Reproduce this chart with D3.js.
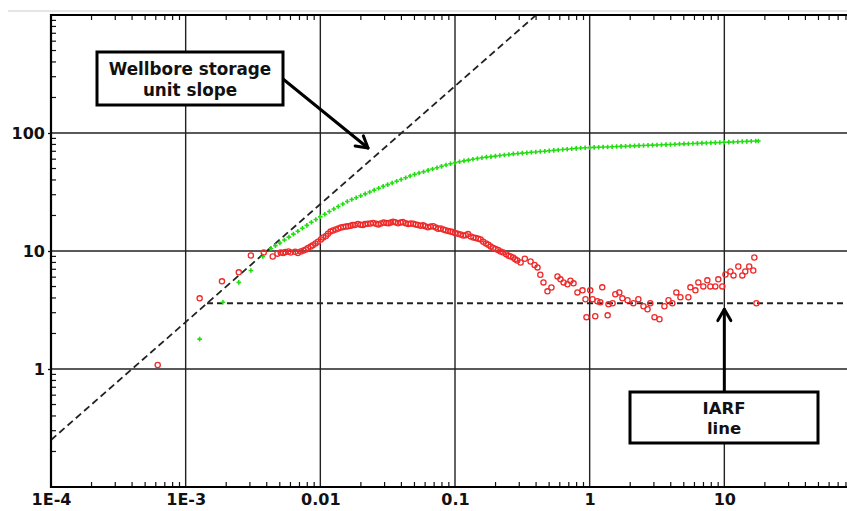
<!DOCTYPE html>
<html><head><meta charset="utf-8">
<script src="https://cdn.jsdelivr.net/npm/d3@7"></script>
<style>body{margin:0;background:#fff}svg{display:block}</style>
</head><body><svg id="c" width="847" height="511"></svg>
<script>
// ---------- data ----------
const xTickValues = [1e-4, 1e-3, 1e-2, 1e-1, 1, 10];
const xTickLabels = ["1E-4", "1E-3", "0.01", "0.1", "1", "10"];
const yTickValues = [1, 10, 100];
const yTickLabels = ["1", "10", "100"];
const xDomain = [1e-4, 100];
const yDomain = [0.1, 1000];
const unitSlopeCoef = 2500;   // wellbore storage line: p = C * t
const iarfLevel = 3.6;        // IARF derivative level
const wellboreArrowTip = [0.0226, 74.6];

// pressure change (green)
const pressureData = [
[1.27e-3,1.79],[1.89e-3,3.68],[2.48e-3,5.42],[3.05e-3,6.84],[3.74e-3,8.99],
[0.0043,10.5],[0.00464,11.1],[0.00501,11.7],[0.00541,12.4],[0.00584,13.1],[0.00631,13.9],[0.00681,14.7],[0.00736,15.6],[0.00794,16.5],[0.00858,17.5],[0.00926,18.5],
[0.01,19.5],[0.0108,20.5],[0.01166,21.6],[0.01259,22.7],[0.01359,23.8],[0.01468,25.0],[0.01585,26.3],[0.01711,27.3],[0.01848,28.3],[0.01995,29.4],[0.02154,30.5],[0.02326,31.6],[0.02512,32.8],[0.02712,34.0],[0.02929,35.3],[0.03162,36.5],[0.03415,37.7],[0.03687,39.0],[0.03981,40.4],[0.04299,41.8],[0.04642,43.2],[0.05012,44.6],[0.05412,45.8],[0.05843,47.0],[0.0631,48.2],[0.06813,49.5],[0.07356,50.8],[0.07943,52.1],[0.08577,53.5],[0.09261,54.9],
[0.1,56.1],[0.108,57.0],[0.1166,58.0],[0.1259,58.9],[0.1359,59.9],[0.1468,60.8],[0.1585,61.7],[0.1711,62.4],[0.1848,63.1],[0.1995,63.7],[0.2154,64.4],[0.2326,65.1],[0.2512,65.8],[0.2712,66.5],[0.2929,67.0],[0.3162,67.5],[0.3415,68.0],[0.3687,68.6],[0.3981,69.1],[0.4299,69.6],[0.4642,70.1],[0.5012,70.7],[0.5412,71.2],[0.5843,71.8],[0.631,72.4],[0.6813,72.9],[0.7356,73.5],[0.7943,74.1],[0.8577,74.7],[0.9261,74.9],
[1,75.2],[1.08,75.5],[1.166,75.7],[1.259,76.0],[1.359,76.2],[1.468,76.5],[1.585,76.8],[1.711,77.0],[1.848,77.3],[1.995,77.6],[2.154,77.8],[2.326,78.1],[2.512,78.4],[2.712,78.7],[2.929,78.9],[3.162,79.2],[3.415,79.5],[3.687,79.7],[3.981,80.0],[4.299,80.3],[4.642,80.6],[5.012,80.9],[5.412,81.1],[5.843,81.4],[6.31,81.7],[6.813,82.0],[7.356,82.3],[7.943,82.6],[8.577,82.8],[9.261,83.1],
[10,83.4],[10.8,83.7],[11.66,84.0],[12.59,84.3],[13.59,84.6],[14.68,84.9],[15.85,85.2],[17.11,85.5],[17.9,85.6]
];

// pressure derivative (red)
const derivativeData = [
[6.2e-4,1.08],[1.27e-3,3.97],[1.86e-3,5.53],[2.48e-3,6.59],[3.05e-3,9.16],[3.8e-3,9.71],[4.43e-3,8.99],[4.8e-3,9.5],[5.08e-3,9.71],[5.3e-3,9.6],[5.5e-3,9.8],[5.8e-3,9.9],[6.03e-3,9.71],[6.5e-3,9.85],[6.8e-3,9.6],[7.16e-3,9.9],[7.5e-3,10.1],[7.8e-3,10.3],[8.1e-3,10.6],[8.49e-3,10.9],[8.8e-3,11.2],[9.2e-3,11.6],[9.6e-3,12.0],
[0.0101,12.5],[0.0105,13.0],[0.011,13.4],[0.0114,14.0],[0.0119,14.6],[0.0124,14.9],[0.013,15.2],[0.0136,15.5],[0.0142,15.8],[0.0148,16.0],[0.0155,16.1],[0.0161,16.2],[0.0168,16.4],[0.0174,16.6],[0.018,16.6],[0.019,16.9],[0.0199,16.7],[0.0207,16.6],[0.0215,16.9],[0.0225,17.0],[0.0236,17.1],[0.0247,17.3],[0.026,17.0],[0.027,16.8],[0.0281,17.1],[0.0295,17.4],[0.031,17.3],[0.0322,17.2],[0.0333,17.4],[0.0347,17.7],[0.036,17.5],[0.0377,17.2],[0.0395,17.4],[0.041,17.6],[0.043,17.2],[0.045,16.9],[0.0469,17.1],[0.049,17.0],[0.051,16.8],[0.053,16.6],[0.0556,16.4],[0.058,16.5],[0.06,16.2],[0.063,15.9],[0.0659,16.1],[0.069,16.2],[0.072,15.8],[0.075,15.4],[0.0782,15.5],[0.082,15.2],[0.085,15.0],[0.089,14.8],[0.0927,14.6],[0.096,14.5],
[0.1,14.2],[0.105,14.0],[0.11,13.8],[0.115,13.5],[0.12,13.6],[0.125,13.9],[0.131,13.3],[0.137,13.0],[0.143,12.9],[0.149,12.7],[0.155,12.5],[0.162,12.0],[0.17,11.6],[0.177,11.3],[0.184,10.9],[0.192,10.6],[0.2,10.4],[0.209,10.2],[0.218,9.9],[0.228,9.7],[0.24,9.4],[0.25,9.1],[0.259,9.0],[0.27,8.8],[0.28,8.5],[0.29,8.3],[0.307,8.0],[0.33,8.6],[0.364,8.15],[0.39,7.6],[0.41,7.26],[0.43,6.3],[0.454,5.42],[0.486,4.55],[0.52,4.9],[0.577,6.09],[0.607,5.75],[0.64,5.42],[0.684,5.22],[0.72,5.6],[0.759,5.32],[0.811,4.46],[0.885,4.64],[0.931,3.90],[0.947,2.75],
[1.01,4.64],[1.05,3.90],[1.10,2.80],[1.14,3.75],[1.2,3.68],[1.24,4.92],[1.36,2.85],[1.38,3.54],[1.48,3.61],[1.55,4.30],[1.66,4.46],[1.75,3.97],[1.91,3.82],[2.11,3.61],[2.30,3.90],[2.51,3.40],[2.69,3.21],[2.82,3.61],[3.03,2.75],[3.30,2.64],[3.59,3.40],[3.85,3.82],[4.11,3.61],[4.40,4.46],[4.72,4.05],[5.41,4.05],[5.60,4.92],[6.10,4.64],[6.41,5.42],[6.98,5.01],[7.48,5.64],[7.87,5.01],[8.57,5.01],[9.02,5.75],[9.66,5.01],
[10.2,6.33],[11.1,6.71],[11.7,6.21],[12.7,7.40],[13.6,6.21],[14.3,6.71],[15.3,7.40],[16.4,6.84],[16.7,8.81],[17.3,3.61]
];

const wellboreLines = ["Wellbore storage", "unit slope"];
const iarfLines = ["IARF", "line"];

// ---------- layout ----------
const W = 847, H = 511;
const L = 51, T = 15, B = 487, R = 859;
const svg = d3.select("#c");
const x = d3.scaleLog().domain(xDomain).range([L, R]);
const y = d3.scaleLog().domain(yDomain).range([B, T]);
const font = "'DejaVu Sans', 'Liberation Sans', Arial, sans-serif";

svg.append("rect").attr("width", W).attr("height", H).attr("fill", "#fff");
svg.append("line").attr("x1", 8).attr("x2", W).attr("y1", 11).attr("y2", 11)
  .attr("stroke", "#e6e6e6").attr("stroke-width", 2);

svg.append("defs").append("clipPath").attr("id", "clip")
  .append("rect").attr("x", L).attr("y", T).attr("width", W - L).attr("height", B - T);

// grid
const grid = svg.append("g");
grid.selectAll(".vg").data(xTickValues.slice(1)).join("line")
  .attr("x1", d => x(d)).attr("x2", d => x(d)).attr("y1", T).attr("y2", B)
  .attr("stroke", "#222").attr("stroke-width", 1.4);
grid.selectAll(".hg").data(yTickValues).join("line")
  .attr("x1", L).attr("x2", W).attr("y1", d => y(d)).attr("y2", d => y(d))
  .attr("stroke", "#222").attr("stroke-width", 1.4);

// minor ticks
const isMajor = v => Math.abs(Math.log10(v) - Math.round(Math.log10(v))) < 1e-9;
const xMinor = x.ticks().filter(v => !isMajor(v) && x(v) < W);
const yMinor = y.ticks().filter(v => !isMajor(v));
const ticks = svg.append("g").attr("stroke", "#111").attr("stroke-width", 1.2);
ticks.selectAll(".xb").data(xMinor).join("line")
  .attr("x1", d => x(d)).attr("x2", d => x(d)).attr("y1", B).attr("y2", B - 5);
ticks.selectAll(".xt").data(xMinor).join("line")
  .attr("x1", d => x(d)).attr("x2", d => x(d)).attr("y1", T).attr("y2", T + 5);
ticks.selectAll(".yl").data(yMinor).join("line")
  .attr("x1", L).attr("x2", L + 5).attr("y1", d => y(d)).attr("y2", d => y(d));

// reference lines
const plot = svg.append("g").attr("clip-path", "url(#clip)");
const lineGen = d3.line().x(d => x(d[0])).y(d => y(d[1]));
const usStart = xDomain[0], usEnd = yDomain[1] / unitSlopeCoef;
plot.append("path")
  .attr("d", lineGen([[usStart, unitSlopeCoef * usStart], [usEnd, unitSlopeCoef * usEnd]]))
  .attr("fill", "none").attr("stroke", "#222").attr("stroke-width", 1.8).attr("stroke-dasharray", "7,4");
plot.append("path")
  .attr("d", lineGen([[iarfLevel / unitSlopeCoef, iarfLevel], [xDomain[1], iarfLevel]]))
  .attr("fill", "none").attr("stroke", "#222").attr("stroke-width", 2).attr("stroke-dasharray", "6,4");

// data points
plot.append("g").selectAll("path").data(pressureData).join("path")
  .attr("transform", d => `translate(${x(d[0])},${y(d[1])})`)
  .attr("d", "M-2.3,0H2.3M0,-2.3V2.3")
  .attr("stroke", "#22dd11").attr("stroke-width", 1.6).attr("fill", "none");
plot.append("g").selectAll("circle").data(derivativeData).join("circle")
  .attr("cx", d => x(d[0])).attr("cy", d => y(d[1])).attr("r", 2.6)
  .attr("fill", "none").attr("stroke", "#ee2a2a").attr("stroke-width", 1.3);

// frame
svg.append("path").attr("d", `M${W},${T}H${L}V${B}H${W}`)
  .attr("fill", "none").attr("stroke", "#000").attr("stroke-width", 2.2);

// axes labels
const xAxis = d3.axisBottom(x).tickValues(xTickValues)
  .tickFormat((d, i) => xTickLabels[i]).tickSize(0).tickPadding(7);
const gx = svg.append("g").attr("transform", `translate(0,${B})`).call(xAxis);
gx.select(".domain").remove();
gx.selectAll("text").attr("font-family", font).attr("font-weight", "bold")
  .attr("font-size", 16).attr("fill", "#111");

const yAxis = d3.axisLeft(y).tickValues(yTickValues)
  .tickFormat((d, i) => yTickLabels[i]).tickSize(3).tickPadding(3);
const gy = svg.append("g").attr("transform", `translate(${L},0)`).call(yAxis);
gy.select(".domain").remove();
gy.selectAll("line").attr("stroke", "#111").attr("stroke-width", 1.3);
gy.selectAll("text").attr("font-family", font).attr("font-weight", "bold")
  .attr("font-size", 16).attr("fill", "#111");

// annotations
function arrow(x1, y1, x2, y2) {
  const a = Math.atan2(y2 - y1, x2 - x1), len = 13, sp = Math.PI / 6;
  const g = svg.append("g").attr("stroke", "#000").attr("stroke-width", 3).attr("fill", "none")
    .attr("stroke-linecap", "round").attr("stroke-linejoin", "round");
  g.append("line").attr("x1", x1).attr("y1", y1).attr("x2", x2).attr("y2", y2);
  g.append("path").attr("d",
    `M${x2 - len * Math.cos(a - sp)},${y2 - len * Math.sin(a - sp)}L${x2},${y2}L${x2 - len * Math.cos(a + sp)},${y2 - len * Math.sin(a + sp)}`);
}
function box(x0, y0, w, h, lines, baselines, size) {
  svg.append("rect").attr("x", x0).attr("y", y0).attr("width", w).attr("height", h)
    .attr("fill", "#fff").attr("stroke", "#000").attr("stroke-width", 3);
  lines.forEach((t, i) => svg.append("text").attr("x", x0 + w / 2).attr("y", baselines[i])
    .attr("text-anchor", "middle").attr("font-family", font).attr("font-weight", "bold")
    .attr("font-size", size).attr("fill", "#111").text(t));
}
arrow(283, 79, x(wellboreArrowTip[0]), y(wellboreArrowTip[1]));
box(97, 52, 186, 53, wellboreLines, [75, 96], 16.8);
arrow(x(10), 392, x(10), y(iarfLevel) + 6);
box(630, 392, 188, 51, iarfLines, [414, 434], 16.5);
</script></body></html>
